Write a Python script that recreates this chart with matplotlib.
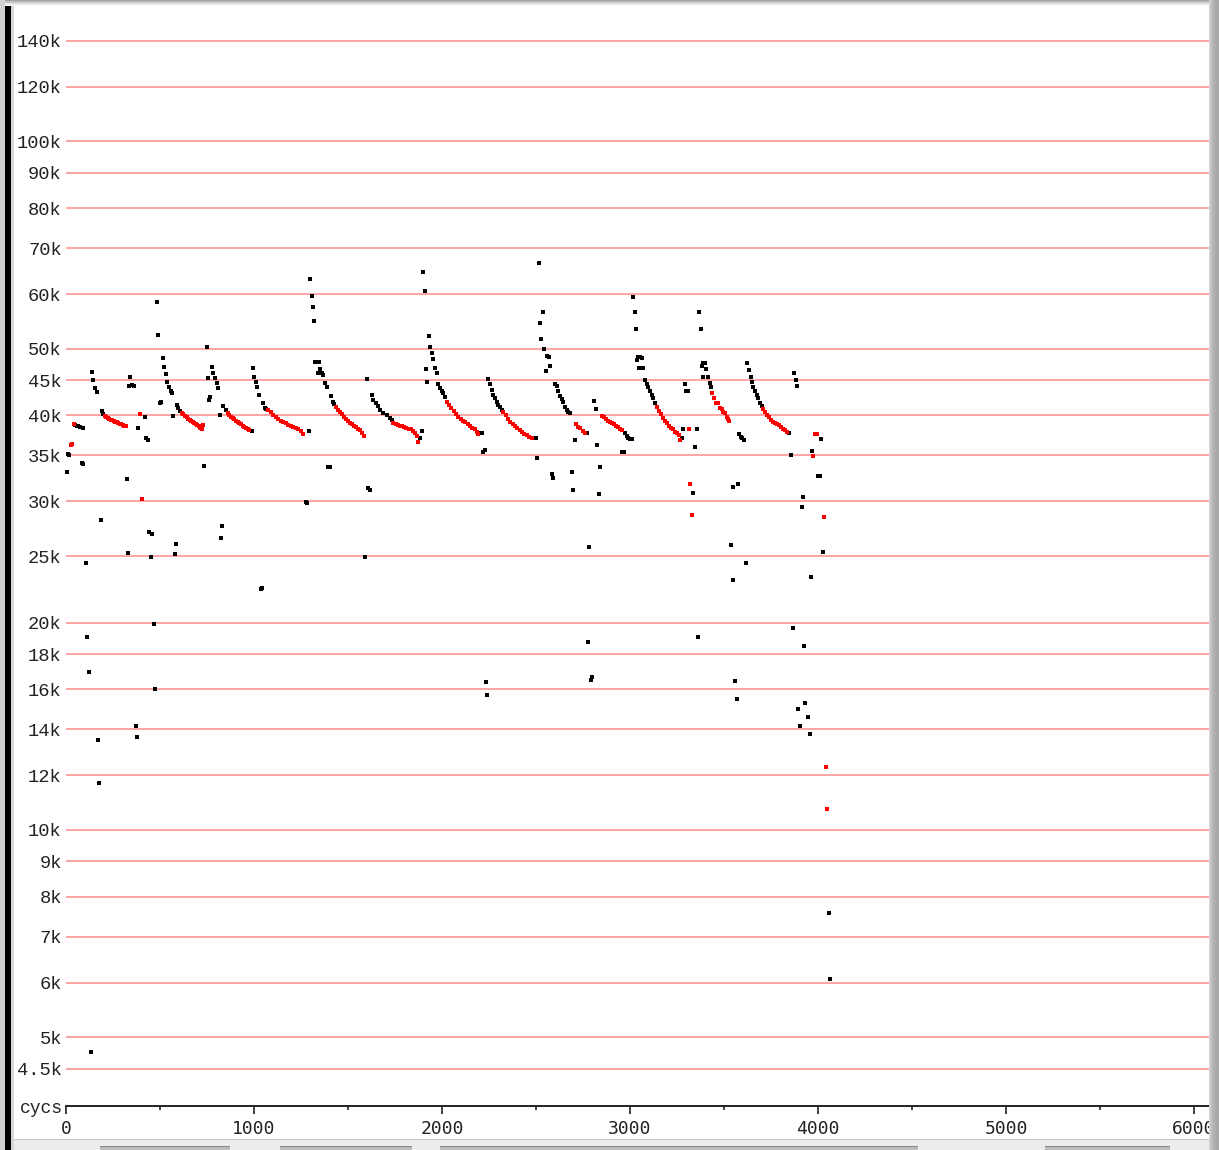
import numpy as np
import matplotlib
matplotlib.use("Agg")
import matplotlib.pyplot as plt
from matplotlib.patches import Rectangle
from matplotlib.ticker import NullLocator, NullFormatter, MultipleLocator

# ---------------- data (cycles, value in k) ----------------
black_x = [9, 18, 4, 48, 56, 64, 74, 92, 84, 92, 186, 105, 113, 121, 133, 170, 176,
           137, 145, 154, 163, 193, 198, 340, 337, 349, 362, 420, 385, 426, 435, 323, 330,
           439, 457, 450, 466, 474, 371, 379,
           485, 490, 514, 521, 530, 539, 548, 557, 564, 500, 507, 571, 592, 597, 606, 585, 582,
           749, 775, 784, 793, 802, 810, 754, 766, 759, 819, 837, 849, 988, 736, 831, 827,
           993, 1002, 1011, 1018, 1027, 1049, 1059, 1064, 1291, 1277, 1284, 1036, 1041,
           1299, 1307, 1313, 1321, 1325, 1334, 1347, 1342, 1351, 1360, 1369, 1378, 1386, 1408,
           1419, 1426, 1395, 1404, 1592,
           1600, 1626, 1635, 1649, 1658, 1670, 1688, 1706, 1723, 1732, 1892, 1883, 1608, 1617,
           1899, 1907, 1929, 1937, 1945, 1954, 1963, 1972, 1913, 1922, 1980, 1989, 1998, 2007,
           2016, 2202, 2211, 2220, 2229, 2232, 2240,
           2246, 2255, 2264, 2273, 2282, 2291, 2300, 2309, 2317, 2486, 2500, 2507,
           2515, 2537, 2520, 2528, 2542, 2556, 2568, 2577, 2553,
           2601, 2610, 2619, 2628, 2637, 2645, 2654, 2663, 2672, 2681,
           2773, 2708, 2583, 2592, 2690, 2698, 2783, 2791, 2799, 2778,
           2809, 2817, 2826, 2841, 2834, 2974, 2983, 2991, 3000, 3009, 2959, 2968,
           3014, 3025, 3033, 3036, 3044, 3053, 3062, 3048, 3071,
           3080, 3089, 3098, 3107, 3116, 3125, 3133,
           3275, 3282, 3355, 3346, 3293, 3300, 3310, 3337, 3360,
           3368, 3378, 3381, 3389, 3399, 3407, 3416, 3389, 3426, 3431,
           3549, 3576, 3581, 3589, 3597, 3606, 3537, 3617, 3546, 3560, 3568,
           3624, 3633, 3642, 3649, 3656, 3665, 3674, 3683, 3692, 3701,
           3847, 3855, 3872, 3881, 3888, 4016, 3966, 4001, 4011, 3919, 3913, 4025, 3961, 3866,
           3927, 3931, 3896, 3947, 3904, 3956, 4057, 4064]
black_k = [35.17, 35.05, 33.1, 38.74, 38.61, 38.61, 38.48, 38.35, 34.17, 34.0, 28.2, 24.4, 19.1, 16.98, 4.76, 13.5, 11.7,
           46.3, 45.0, 43.9, 43.2, 40.6, 40.2, 45.5, 44.15, 44.3, 44.15, 39.75, 38.4, 37.07, 36.86, 32.35, 25.28,
           27.13, 26.9, 24.9, 19.9, 16.04, 14.16, 13.66,
           58.5, 52.4, 48.4, 47.04, 45.95, 44.78, 44.04, 43.4, 43.08, 41.66, 41.8, 39.9, 41.37, 40.96, 40.64, 26.06, 25.14,
           50.35, 46.99, 46.16, 45.3, 44.56, 43.8, 45.3, 42.58, 42.12, 40.1, 41.3, 40.74, 37.97, 33.8, 27.64, 26.59,
           46.93, 45.54, 44.78, 44.04, 42.83, 41.74, 41.06, 40.84, 38.0, 29.98, 29.83, 22.37, 22.44,
           63.1, 59.7, 57.4, 54.85, 47.9, 47.9, 47.9, 46.06, 46.73, 46.16, 45.8, 44.64, 43.95, 42.69,
           41.88, 41.56, 33.7, 33.7, 24.9,
           45.14, 42.83, 42.12, 41.66, 41.3, 40.74, 40.38, 40.07, 39.63, 39.4, 38.0, 37.07, 31.42, 31.17,
           64.7, 60.6, 52.2, 50.35, 49.25, 48.32, 46.84, 46.16, 46.68, 44.78, 44.45, 43.8, 43.45, 43.08,
           42.58, 37.7, 37.77, 35.43, 35.64, 16.38, 15.73,
           45.14, 44.45, 43.57, 42.83, 42.37, 41.88, 41.43, 41.11, 40.74, 37.1, 37.1, 34.72,
           66.7, 56.56, 54.55, 51.65, 49.9, 48.86, 48.6, 47.2, 46.44,
           44.4, 44.15, 43.45, 42.69, 42.23, 41.88, 41.2, 40.74, 40.5, 40.38,
           37.76, 36.86, 32.85, 32.48, 33.1, 31.17, 25.8, 16.5, 16.7, 18.77,
           41.98, 40.88, 36.25, 33.7, 30.73, 37.7, 37.35, 37.07, 36.94, 37.02, 35.43, 35.43,
           59.45, 56.56, 53.45, 48.2, 48.7, 48.6, 48.43, 46.93, 46.93,
           45.0, 44.45, 43.95, 43.35, 42.83, 42.37, 41.74,
           37.07, 38.19, 38.19, 35.97, 44.45, 43.45, 43.45, 30.9, 19.07,
           56.56, 53.45, 47.2, 47.65, 47.65, 46.68, 45.54, 45.54, 44.64, 43.95,
           31.52, 31.8, 37.6, 37.26, 37.07, 36.86, 25.92, 24.4, 23.08, 16.47, 15.5,
           47.65, 46.5, 45.54, 44.78, 44.04, 43.45, 42.83, 42.37, 41.74, 41.3,
           37.76, 35.05, 46.16, 45.0, 44.15, 37.02, 35.55, 32.7, 32.7, 30.42, 29.49, 25.37, 23.31, 19.65,
           18.5, 15.28, 14.97, 14.59, 14.16, 13.8, 7.58, 6.08]

red_x = [43, 30, 25,
         207, 215, 223, 231, 239, 247, 255, 263, 271, 279, 287, 295, 303, 311, 319,
         394, 406,
         617, 625, 633, 641, 649, 657, 665, 673, 681, 689, 697, 705, 713, 721, 730,
         860, 869, 878, 887, 895, 904, 913, 922, 931, 940, 948, 957, 966, 975,
         1076, 1089, 1103, 1116, 1129, 1142, 1156, 1169, 1182, 1196, 1209, 1222, 1235, 1249, 1262,
         1436, 1447, 1458, 1468, 1479, 1489, 1500, 1511, 1521, 1532, 1543, 1553, 1564, 1575, 1585,
         1741, 1753, 1765, 1777, 1789, 1800, 1811, 1823, 1836, 1847, 1858, 1866, 1874,
         2025, 2037, 2049, 2062, 2074, 2087, 2099, 2112, 2124, 2137, 2149, 2161, 2174, 2186, 2193,
         2326, 2339, 2351, 2363, 2376, 2388, 2401, 2413, 2426, 2438, 2450, 2463, 2477,
         2713, 2725, 2734, 2752, 2761,
         2849, 2860, 2871, 2881, 2892, 2903, 2913, 2924, 2935, 2945, 2956,
         3142, 3153, 3164, 3174, 3185, 3196, 3206, 3217, 3228, 3238, 3249, 3260, 3266, 3315, 3320, 3328,
         3438, 3447, 3456, 3470, 3479, 3488, 3496, 3505, 3514, 3523, 3528,
         3709, 3720, 3730, 3741, 3752, 3762, 3773, 3784, 3794, 3805, 3816, 3826, 3834,
         3984, 3993, 3975, 4033, 4041, 4048]
red_k = [38.9, 36.35, 36.2,
         39.92, 39.79, 39.66, 39.59, 39.46, 39.4, 39.26, 39.2, 39.13, 39.0, 38.94, 38.87, 38.74, 38.68, 38.61,
         40.15, 30.28,
         40.34, 40.14, 39.92, 39.79, 39.59, 39.46, 39.33, 39.2, 39.06, 38.87, 38.74, 38.61, 38.42, 38.17, 38.74,
         40.3, 40.07, 39.86, 39.66, 39.53, 39.33, 39.2, 39.0, 38.87, 38.68, 38.55, 38.35, 38.23, 38.1,
         40.7, 40.41, 40.07, 39.79, 39.53, 39.33, 39.13, 39.0, 38.8, 38.68, 38.55, 38.35, 38.17, 37.97, 37.65,
         41.2, 40.8, 40.46, 40.14, 39.79, 39.53, 39.26, 39.06, 38.87, 38.68, 38.48, 38.29, 38.04, 37.72, 37.29,
         38.96, 38.87, 38.8, 38.68, 38.58, 38.48, 38.42, 38.29, 38.17, 37.97, 37.72, 37.35, 36.64,
         41.88, 41.43, 41.02, 40.61, 40.2, 39.86, 39.59, 39.33, 39.13, 38.87, 38.68, 38.42, 38.17, 37.85, 37.6,
         40.5, 40.07, 39.53, 39.2, 38.87, 38.61, 38.35, 38.1, 37.85, 37.6, 37.41, 37.23, 37.07,
         38.87, 38.52, 38.31, 38.0, 37.76,
         39.92, 39.79, 39.53, 39.33, 39.13, 39.0, 38.87, 38.68, 38.48, 38.29, 38.1,
         41.11, 40.67, 40.2, 39.73, 39.33, 39.0, 38.68, 38.42, 38.17, 37.91, 37.72, 37.47, 36.86, 38.19, 31.8, 28.66,
         43.08, 42.37, 41.74, 41.74, 40.98, 40.84, 40.5, 40.3, 39.86, 39.5, 39.33,
         40.84, 40.46, 40.07, 39.79, 39.46, 39.2, 39.0, 38.87, 38.74, 38.48, 38.29, 38.1, 37.88,
         37.6, 37.6, 34.98, 28.52, 12.35, 10.74]

y_ticks = [4500, 5000, 6000, 7000, 8000, 9000, 10000, 12000, 14000, 16000, 18000, 20000,
           25000, 30000, 35000, 40000, 45000, 50000, 60000, 70000, 80000, 90000,
           100000, 120000, 140000]
y_labels = ["4.5k", "5k", "6k", "7k", "8k", "9k", "10k", "12k", "14k", "16k", "18k", "20k",
            "25k", "30k", "35k", "40k", "45k", "50k", "60k", "70k", "80k", "90k",
            "100k", "120k", "140k"]
x_ticks = [0, 1000, 2000, 3000, 4000, 5000, 6000]
x_labels = ["0", "1000", "2000", "3000", "4000", "5000", "6000"]

# ---------------- figure ----------------
W, H = 1219, 1150
fig = plt.figure(figsize=(W / 100, H / 100), dpi=100)
fig.patch.set_facecolor("white")
ax = fig.add_axes([66 / W, 1 - 1106 / H, (1209 - 66) / W, (1106 - 7) / H])
ax.set_yscale("log")
ax.set_ylim(3973, 156800)
ax.set_xlim(0, 6080)

for s in ["top", "left", "right"]:
    ax.spines[s].set_visible(False)
ax.spines["bottom"].set_color("#222222")
ax.spines["bottom"].set_linewidth(1.4)

ax.set_yticks(y_ticks)
ax.set_yticklabels(y_labels, family="Liberation Mono", fontsize=13.5, color="#222222")
ax.yaxis.set_minor_locator(NullLocator())
ax.yaxis.set_minor_formatter(NullFormatter())
ax.tick_params(axis="y", length=0, pad=3)
ax.grid(axis="y", color="#ffa4a4", linewidth=1.4)
ax.set_axisbelow(True)

ax.set_xticks(x_ticks)
ax.set_xticklabels(x_labels, family="DejaVu Sans Mono", fontsize=13, color="#222222")
ax.xaxis.set_minor_locator(MultipleLocator(500))
ax.tick_params(axis="x", which="major", direction="out", length=6, width=1.2, color="#222222", pad=4)
ax.tick_params(axis="x", which="minor", direction="out", length=3, width=1.2, color="#222222")

ax.plot(black_x, np.array(black_k) * 1000, ls="none", marker="s", ms=2.3, mew=0,
        color="black", zorder=3, clip_on=False)
ax.plot(red_x, np.array(red_k) * 1000, ls="none", marker="s", ms=2.3, mew=0,
        color="#ff0000", zorder=3, clip_on=False)

fig.text(63 / W, 1 - 1113 / H, "cycs", ha="right", va="baseline",
         family="Liberation Mono", fontsize=13, color="#222222")

# ---------------- window frame decoration ----------------
def rect(x0, y0, x1, y1, color, z=5):
    fig.patches.append(Rectangle((x0 / W, 1 - y1 / H), (x1 - x0) / W, (y1 - y0) / H,
                                 transform=fig.transFigure, facecolor=color,
                                 edgecolor="none", zorder=z))

# top shadow
for i, c in enumerate(["#a4a4a4", "#b8b8b8", "#cccccc", "#dedede", "#eeeeee", "#f8f8f8"]):
    rect(0, i, W, i + 1, c)
# right shadow
for i, c in enumerate(["#d4d4d4", "#c8c8c8", "#c0c0c0", "#b8b8b8", "#b4b4b4",
                       "#b0b0b0", "#acacac", "#a8a8a8", "#a8a8a8", "#a8a8a8"]):
    rect(1209 + i, 0, 1210 + i, H, c)
# left frame
rect(0, 0, 5, H, "#d0d0d0")
rect(5, 6, 11, H, "#000000")
rect(11, 6, 14, H, "#d6d6d6")
# bottom strip
rect(14, 1139, 1209, 1150, "#ececec")
rect(14, 1139, 1209, 1140, "#c8c8c8")
for a, b in [(100, 230), (280, 412), (440, 918), (1045, 1170)]:
    rect(a, 1146, b, 1150, "#bdbdbd")
    rect(a, 1146, b, 1147, "#8a8a8a")

fig.savefig("out.png", dpi=100, facecolor="white")
